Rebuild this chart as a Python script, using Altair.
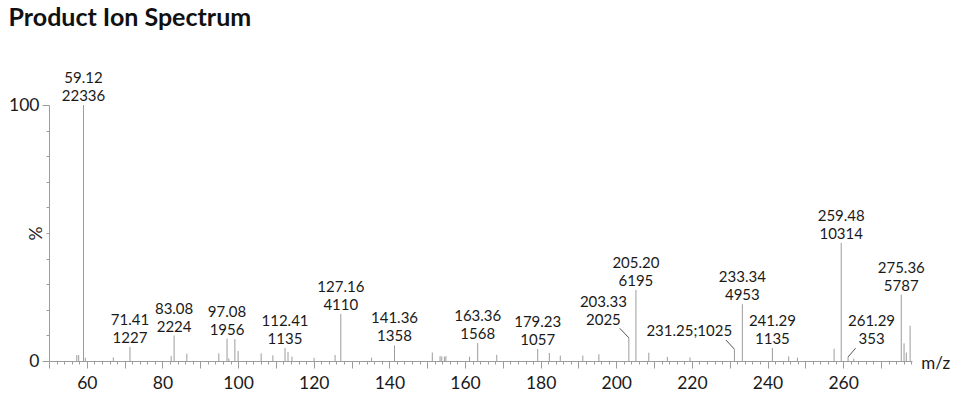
import altair as alt
import pandas as pd

# ---- data ----
labeled_mz = ["59.12", "71.41", "83.08", "97.08", "112.41", "127.16", "141.36",
              "163.36", "179.23", "203.33", "205.20", "231.25", "233.34",
              "241.29", "259.48", "261.29", "275.36"]
labeled_counts = [22336, 1227, 2224, 1956, 1135, 4110, 1358,
                  1568, 1057, 2025, 6195, 1025, 4953,
                  1135, 10314, 353, 5787]

minor_mz = [57.35, 57.85, 59.6, 67.0, 82.3, 86.45, 94.9, 97.55, 99.15, 100.0,
            106.1, 109.2, 113.2, 114.25, 120.1, 125.65, 135.3, 151.35,
            153.4, 153.85, 154.55, 154.95, 161.2, 168.4, 182.3, 185.2,
            191.15, 195.4, 208.6, 213.5, 219.5, 245.6, 247.9, 257.6,
            262.8, 276.1, 276.7, 277.7]
minor_counts = [520, 520, 290, 310, 440, 640, 670, 220, 1900, 870,
                670, 490, 780, 380, 270, 520, 290, 740,
                420, 400, 380, 420, 380, 540, 700, 470,
                470, 590, 720, 360, 310, 400, 290, 1070,
                200, 1540, 740, 3080]

# labels that are moved aside (label centre m/z, label bottom %, leader end m/z, leader end %)
moved_labels = {
    "203.33": (196.6, 12.5, 200.9, 12.8),
    "231.25": (219.3, 8.2, 229.0, 8.2),
    "261.29": (267.5, 5.1, 263.3, 5.0),
}
single_line = {"231.25"}

base = max(labeled_counts)

peaks = pd.DataFrame({
    "mz": [float(m) for m in labeled_mz] + minor_mz,
    "pct": [c / base * 100 for c in labeled_counts + minor_counts],
})

lab2_rows, lab1_rows, lead_rows = [], [], []
for m, c in zip(labeled_mz, labeled_counts):
    pct = c / base * 100
    if m in moved_labels:
        lx, ly, ex, ey = moved_labels[m]
        lead_rows.append({"mz": float(m), "pct": pct, "x2": ex, "y2": ey})
    else:
        lx, ly = float(m), pct
    if m in single_line:
        lab1_rows.append({"mz": lx, "pct": ly, "text": f"{m};{c}"})
    else:
        lab2_rows.append({"mz": lx, "pct": ly, "text": f"{m}\n{c}"})
labels2 = pd.DataFrame(lab2_rows)
labels1 = pd.DataFrame(lab1_rows)
leaders = pd.DataFrame(lead_rows)

XMIN, XMAX = 50, 278.2
xscale = alt.Scale(domain=[XMIN, XMAX], nice=False, zero=False)
yscale = alt.Scale(domain=[0, 100], nice=False)

GRAY = "#9c9c9c"
INK = "#1a1a1a"
FONT = "Lato"

x_axis = alt.Axis(
    values=list(range(50, 279, 2)),
    labelExpr="(datum.value % 20 === 0 && datum.value >= 60) ? datum.label : ''",
    tickSize={"condition": {"test": "datum.value % 10 === 0", "value": 7}, "value": 3},
    labelOverlap=False, labelFlush=False, grid=False,
    labelFont=FONT, labelFontSize=17.5, labelColor=INK, labelPadding=6,
    domainColor=GRAY, tickColor=GRAY,
    title="m/z", titleFont=FONT, titleFontSize=17, titleFontWeight="normal",
    titleColor=INK, titleX=871.7, titleY=7.3, titleAlign="left",
    titleBaseline="alphabetic",
)
y_axis = alt.Axis(
    values=list(range(0, 101, 10)),
    labelExpr="(datum.value === 0 || datum.value === 100) ? datum.label : ''",
    tickSize={"condition": {"test": "datum.value === 0 || datum.value === 100", "value": 7}, "value": 3},
    labelOverlap=False, labelFlush=False, grid=False,
    labelFont=FONT, labelFontSize=17.5, labelColor=INK, labelPadding=3,
    domainColor=GRAY, tickColor=GRAY,
    title="%", titleFont=FONT, titleFontSize=17.5, titleFontWeight="normal",
    titleColor=INK, titleX=-12.5, titleY=128, titleAngle=270,
    titleAlign="center", titleBaseline="middle",
)

X = alt.X("mz:Q", scale=xscale, axis=x_axis)
Y = alt.Y("pct:Q", scale=yscale, axis=y_axis)

peak_layer = alt.Chart(peaks).mark_rule(color=GRAY, strokeWidth=1).encode(
    x=X, y=Y, y2=alt.datum(0),
)

label2_layer = alt.Chart(labels2).mark_text(
    font=FONT, fontSize=15, color=INK, baseline="bottom", align="center",
    lineBreak="\n", lineHeight=18, dy=-19,
).encode(x=X, y=Y, text="text:N")

label1_layer = alt.Chart(labels1).mark_text(
    font=FONT, fontSize=15, color=INK, baseline="bottom", align="center", dy=-1,
).encode(x=X, y=Y, text="text:N")

leader_layer = alt.Chart(leaders).mark_rule(color="#555555", strokeWidth=1).encode(
    x=X, y=Y, x2="x2:Q", y2="y2:Q",
)

chart = alt.layer(peak_layer, leader_layer, label2_layer, label1_layer).properties(
    width=863,
    height=256,
    autosize=alt.AutoSizeParams(type="none"),
    padding={"left": 49, "top": 105, "right": 48, "bottom": 35},
    title=alt.TitleParams(
        "Product Ion Spectrum", anchor="start", font=FONT, fontSize=25,
        fontWeight="bold", color="#111111", dx=0, offset=20,
        baseline="alphabetic",
    ),
).configure(background="white").configure_view(stroke=None)

chart.save("out.html", embed_options={"renderer": "svg", "actions": False})
